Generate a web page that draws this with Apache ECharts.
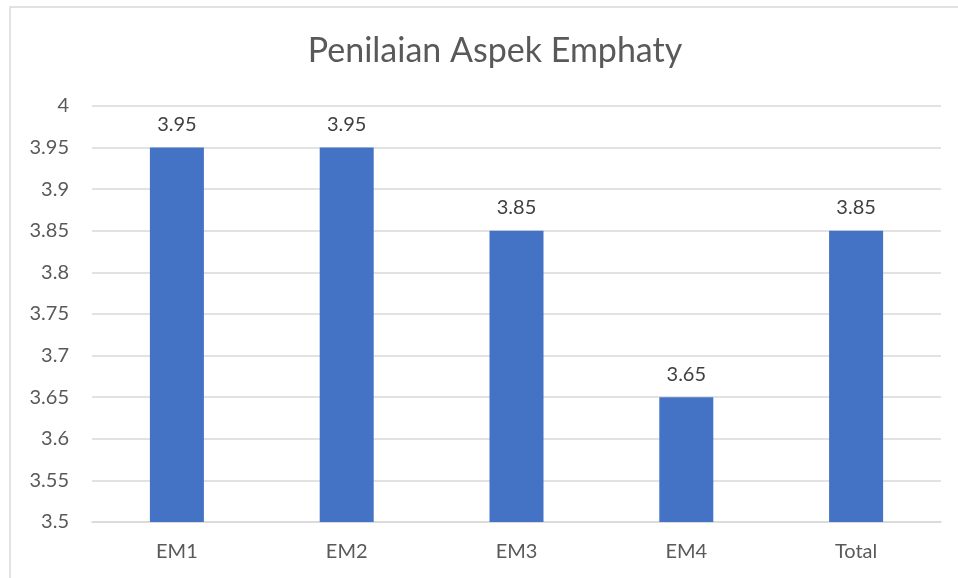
<!DOCTYPE html>
<html>
<head>
<meta charset="utf-8">
<script src="https://cdn.jsdelivr.net/npm/echarts@6/dist/echarts.min.js"></script>
<style>
  html, body { margin: 0; padding: 0; background: #fff; }
  #chart { width: 958px; height: 578px; }
</style>
</head>
<body>
<div id="chart"></div>
<script>
// data
var categories = ["EM1", "EM2", "EM3", "EM4", "Total"];
var scores = [3.95, 3.95, 3.85, 3.65, 3.85];

var myChart = echarts.init(document.getElementById("chart"));
var font = "Lato, 'Open Sans', sans-serif";

var option = {
  animation: false,
  title: {
    text: "Penilaian Aspek Emphaty",
    left: 490,
    textAlign: "center",
    top: 29,
    textStyle: { fontFamily: font, fontSize: 34, fontWeight: "normal", color: "#595959" }
  },
  graphic: [
    {
      type: "rect",
      shape: { x: 10, y: 7, width: 960, height: 590 },
      style: { fill: "none", stroke: "#d9d9d9", lineWidth: 1.5 },
      silent: true
    }
  ],
  grid: { left: 92, right: 17, top: 106, bottom: 56 },
  xAxis: {
    type: "category",
    data: categories,
    axisLine: { show: true, lineStyle: { color: "#d9d9d9", width: 1.5 } },
    axisTick: { show: false },
    axisLabel: { fontFamily: font, fontSize: 20, color: "#595959", margin: 20 }
  },
  yAxis: {
    type: "value",
    min: 3.5,
    max: 4,
    interval: 0.05,
    axisLine: { show: false },
    axisTick: { show: false },
    splitLine: { lineStyle: { color: "#d9d9d9", width: 1.5 } },
    axisLabel: {
      fontFamily: font, fontSize: 20, color: "#595959", margin: 23,
      formatter: function (v) { return String(Math.round(v * 100) / 100); }
    }
  },
  series: [
    {
      type: "bar",
      data: scores,
      barWidth: 54,
      itemStyle: { color: "#4472c4" },
      label: {
        show: true,
        position: "top",
        distance: 13,
        fontFamily: font,
        fontSize: 20,
        color: "#404040",
        formatter: function (p) { return p.value.toFixed(2); }
      }
    }
  ]
};

myChart.setOption(option);
</script>
</body>
</html>
